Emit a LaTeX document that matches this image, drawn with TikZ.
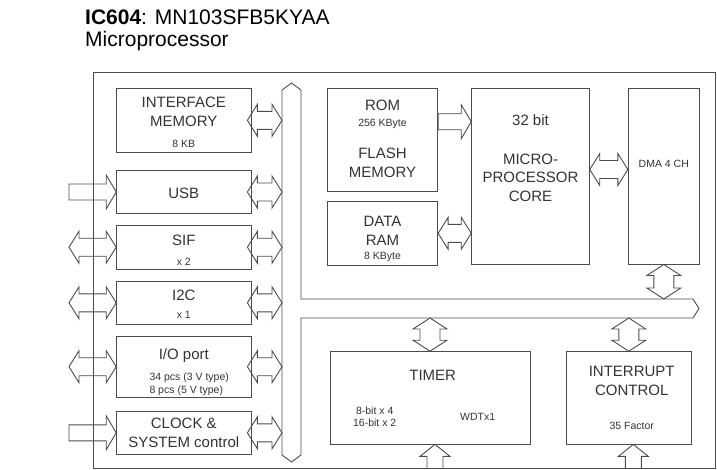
\documentclass[tikz,border=0pt]{standalone}
\usepackage{fontspec}
\setmainfont{Liberation Sans}
\usetikzlibrary{calc}

\definecolor{ln}{gray}{0.3}
\definecolor{tx}{gray}{0.2}

% block arrows
\newcommand{\dblh}[2]{\draw[blk] let \p1=#1, \p2=#2 in
  (\p1) -- (\x1+10pt,\y1+16pt) -- (\x1+10pt,\y1+9pt) -- (\x2-10pt,\y1+9pt) -- (\x2-10pt,\y1+16pt) -- (\x2,\y1)
  -- (\x2-10pt,\y1-16pt) -- (\x2-10pt,\y1-9pt) -- (\x1+10pt,\y1-9pt) -- (\x1+10pt,\y1-16pt) -- cycle;}
\newcommand{\dblv}[2]{\draw[blk] let \p1=#1, \p2=#2 in
  (\p1) -- (\x1-17pt,\y1-11pt) -- (\x1-10pt,\y1-11pt) -- (\x1-10pt,\y2+11pt) -- (\x1-17pt,\y2+11pt) -- (\x1,\y2)
  -- (\x1+17pt,\y2+11pt) -- (\x1+10pt,\y2+11pt) -- (\x1+10pt,\y1-11pt) -- (\x1+17pt,\y1-11pt) -- cycle;}
\newcommand{\sglr}[2]{\draw[blk] let \p1=#1, \p2=#2 in
  (\x1,\y2+8pt) -- (\x2-10pt,\y2+8pt) -- (\x2-10pt,\y2+17pt) -- (\p2)
  -- (\x2-10pt,\y2-17pt) -- (\x2-10pt,\y2-8pt) -- (\x1,\y2-8pt) -- cycle;}
\newcommand{\sglu}[2]{\draw[blk] let \p1=#1, \p2=#2 in
  (\p1) -- (\x1-15pt,\y1-12pt) -- (\x1-8pt,\y1-12pt) -- (\x1-8pt,\y2)
  -- (\x1+8pt,\y2) -- (\x1+8pt,\y1-12pt) -- (\x1+15pt,\y1-12pt) -- cycle;}

\begin{document}
\begin{tikzpicture}[x=1pt, y=-1pt,
    box/.style={draw=ln, line width=0.9pt, inner sep=0pt},
    blk/.style={draw=ln, line width=0.9pt},
    lbl/.style={text=tx, inner sep=0pt, anchor=north, align=center, font=\fontsize{15}{19}\selectfont},
    sml/.style={text=tx, inner sep=0pt, anchor=north, align=center, font=\fontsize{10.5}{12.6}\selectfont}
]
\useasboundingbox (0,0) rectangle (717,469);

\node[anchor=north west, inner sep=0pt, font=\fontsize{21}{25}\selectfont] (title) at (85,10) {\textbf{IC604}: MN103SFB5KYAA};
\node[anchor=north west, inner sep=0pt, font=\fontsize{21}{25}\selectfont] (sub) at (85,30.7) {Microprocessor};

\node[box, minimum width=622pt, minimum height=396pt] (chip) at (404,270) {};

% bus
\draw[blk] (291.5,83) -- (301,90) -- (301,299) -- (693,299) -- (699,308.5) -- (693,318) -- (301,318)
    -- (301,455) -- (291.5,462) -- (282,455) -- (282,90) -- cycle;
\coordinate (bl) at (282,0);
\coordinate (ext) at (69,0);
\coordinate (bt) at (0,299);
\coordinate (bb) at (0,318);

\node[box, minimum width=134.3pt, minimum height=64pt] (im) at (183.8,120.3) {};
\node[box, minimum width=134.3pt, minimum height=42.6pt] (usb) at (183.8,192) {};
\node[box, minimum width=134.3pt, minimum height=44.3pt] (sif) at (183.8,247.2) {};
\node[box, minimum width=134.3pt, minimum height=42.3pt] (i2c) at (183.8,302.8) {};
\node[box, minimum width=134.3pt, minimum height=61.3pt] (io) at (183.8,366.7) {};
\node[box, minimum width=134.3pt, minimum height=42.3pt] (clk) at (183.8,432.8) {};

\node[box, minimum width=110.4pt, minimum height=102.7pt] (rom) at (382.5,139.7) {};
\node[box, minimum width=110.4pt, minimum height=63.3pt] (ram) at (382.5,233.3) {};
\node[box, minimum width=117.6pt, minimum height=175.7pt] (cpu) at (530.5,176.2) {};
\node[box, minimum width=71pt, minimum height=175.7pt] (dma) at (663.8,176.2) {};
\node[box, minimum width=200pt, minimum height=92.3pt] (tim) at (430,397.8) {};
\node[box, minimum width=124.3pt, minimum height=92.3pt] (irq) at (628.8,397.8) {};

\node[lbl] (imT) at (183.8,96.9) {INTERFACE\\MEMORY};
\node[sml] (imS) at (183.8,139.5) {8 KB};
\node[lbl] (usbT) at (183.8,187.9) {USB};
\node[lbl] (sifT) at (183.8,234.6) {SIF};
\node[sml] (sifS) at (183.8,258.3) {x 2};
\node[lbl] (i2cT) at (183.8,289.6) {I2C};
\node[sml] (i2cS) at (183.8,311.3) {x 1};
\node[lbl] (ioT) at (183.8,348) {I/O port};
\node[sml, anchor=north west, align=left] (ioS) at (149.3,373) {34 pcs (3 V type)\\8 pcs (5 V type)};
\node[lbl] (clkT) at (183.8,418) {CLOCK \&\\SYSTEM control};
\node[lbl] (romT) at (382.5,99.6) {ROM};
\node[sml] (romS) at (382.5,118.5) {256 KByte};
\node[lbl] (flT) at (382.5,148) {FLASH\\MEMORY};
\node[lbl] (ramT) at (382.5,215.6) {DATA\\RAM};
\node[sml] (ramS) at (382.5,252) {8 KByte};
\node[lbl] (cpuB) at (530.5,114) {32 bit};
\node[lbl, font=\fontsize{15}{18.3}\selectfont] (cpuT) at (530.5,154) {MICRO-\\PROCESSOR\\CORE};
\node[sml] (dmaT) at (663.8,160.3) {DMA 4 CH};
\node[lbl] (timT) at (432.7,370.3) {TIMER};
\node[sml] (timS) at (374.7,406.2) {8-bit x 4\\16-bit x 2};
\node[sml] (timW) at (477.7,413.5) {WDTx1};
\node[lbl] (irqT) at (631.7,365.6) {INTERRUPT\\CONTROL};
\node[sml] (irqS) at (631.7,421.5) {35 Factor};

\foreach \b in {im, usb, sif, i2c, io, clk}
    \dblh{([xshift=-4pt]\b.east)}{(\b.east -| bl)};
\foreach \b in {sif, i2c, io}
    \dblh{(\b.west -| ext)}{(\b.west)};
\sglr{(usb.west -| ext)}{(usb.west)};
\sglr{(clk.west -| ext)}{(clk.west)};

\coordinate (romo) at ([yshift=18pt]rom.east);
\coordinate (cpuo) at ([yshift=6.7pt]cpu.east);
\sglr{(romo)}{(romo -| cpu.west)};
\dblh{(ram.east)}{(ram.east -| cpu.west)};
\dblh{(cpuo)}{(cpuo -| dma.west)};
\dblv{(dma.south)}{(dma.south |- bt)};

\dblv{(tim.north |- bb)}{(tim.north)};
\dblv{(irq.north |- bb)}{(irq.north)};
\coordinate (tin) at ([xshift=5pt]tim.south);
\coordinate (qin) at ([xshift=4.5pt]irq.south);
\sglu{(tin)}{(tin |- chip.south)};
\sglu{(qin)}{(qin |- chip.south)};

\end{tikzpicture}
\end{document}
